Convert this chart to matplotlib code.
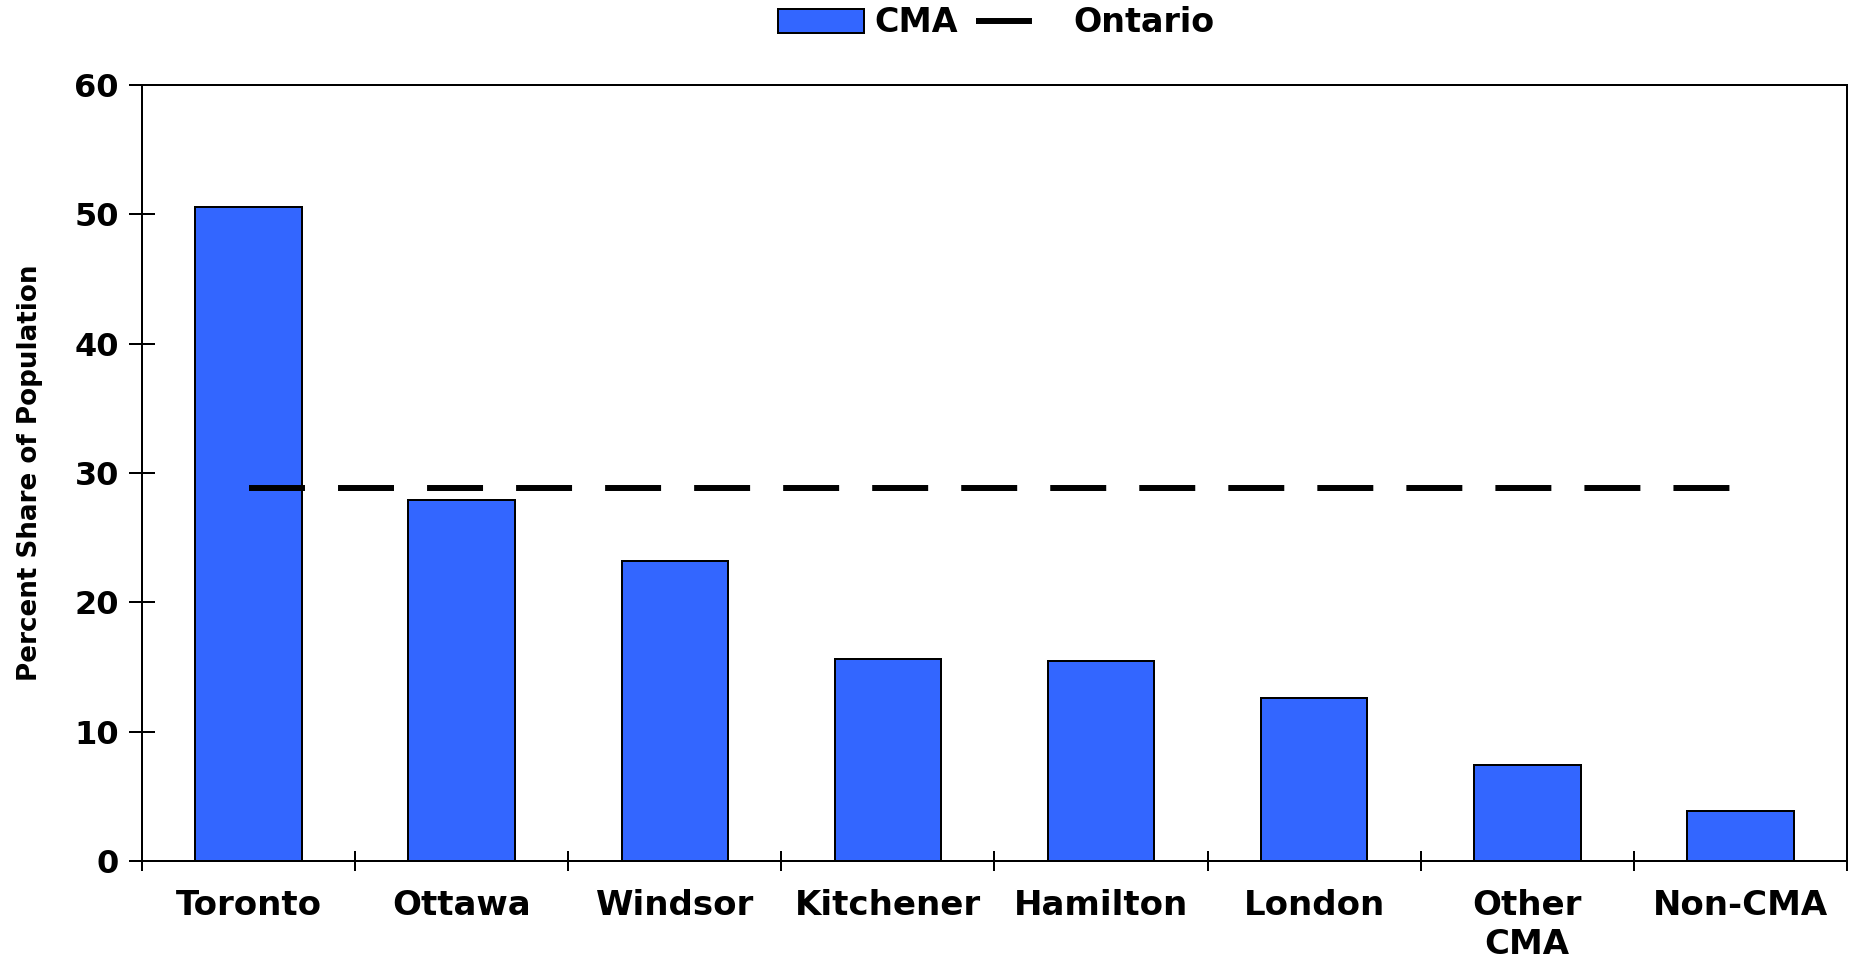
import matplotlib
matplotlib.use("Agg")
import matplotlib.pyplot as plt
import numpy as np

categories = ["Toronto", "Ottawa", "Windsor", "Kitchener", "Hamilton", "London", "Other\nCMA", "Non-CMA"]
cma_share = [50.6, 27.9, 23.2, 15.6, 15.5, 12.6, 7.4, 3.85]
ontario_share = [28.85, 28.85, 28.85, 28.85, 28.85, 28.85, 28.85, 28.85]
y_ticks = [0, 10, 20, 30, 40, 50, 60]

plt.rcParams['font.family'] = ['DejaVu Sans']
plt.rcParams['font.weight'] = 'bold'
plt.rcParams['lines.scale_dashes'] = False

DPI = 100
fig = plt.figure(figsize=(18.57, 9.58), dpi=DPI)
ax = fig.add_axes([142/1857, 1-861/958, (1847-142)/1857, (861-85)/958])

x = np.arange(len(categories))
bars = ax.bar(x, cma_share, width=0.5, color='#3366FF', edgecolor='black', linewidth=1.44,
              label='CMA', zorder=2)
line, = ax.plot(x, ontario_share, color='black', linewidth=4.3, label='Ontario', zorder=3,
                solid_capstyle='butt', dash_capstyle='butt')
line.set_dashes((40.3, 23.8))

ax.set_xlim(-0.5, len(categories) - 0.5)
ax.set_ylim(0, 60)
ax.set_yticks(y_ticks)
ax.set_yticklabels([str(v) for v in y_ticks])

ax.set_xticks(np.arange(-0.5, len(categories), 1.0))
ax.set_xticklabels([])
ax.set_xticks(x, minor=True)
ax.set_xticklabels(categories, minor=True, fontsize=24.5, fontweight='bold', linespacing=1.22)
ax.tick_params(axis='x', which='major', direction='inout', length=14.4, width=1.44)
ax.tick_params(axis='x', which='minor', length=0, pad=20.5)
ax.tick_params(axis='y', which='major', direction='inout', length=19.4, width=1.44, pad=7,
               labelsize=23)
for lab in ax.get_yticklabels():
    lab.set_fontweight('bold')

for s in ax.spines.values():
    s.set_linewidth(1.44)

ax.set_ylabel('Percent Share of Population', fontsize=18.8, fontweight='bold', va='center')
ax.yaxis.set_label_coords((30-142)/1705, 0.5)

fig.legend([bars, line], ['CMA', 'Ontario'], loc='center', bbox_to_anchor=(996/1857, 1-23/958),
           ncol=2, frameon=False, handlelength=2.6, handletextpad=0.3, columnspacing=0.55,
           borderpad=0, borderaxespad=0, prop={'weight': 'bold', 'size': 24})

fig.savefig('out.png', dpi=DPI)
